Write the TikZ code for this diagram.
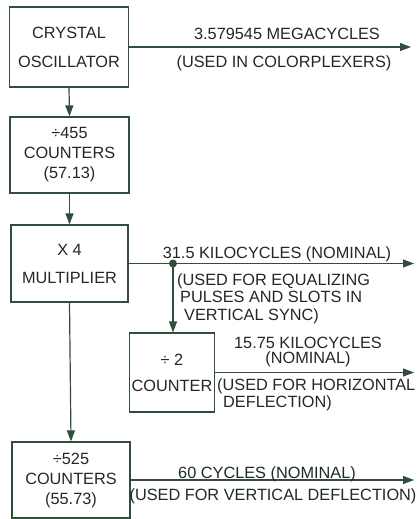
\documentclass[tikz,border=0pt]{standalone}
\usepackage{fontspec}
\setmainfont{Liberation Sans}
\usepackage{tikz}
\usetikzlibrary{arrows.meta, positioning, calc}
\usepackage{xcolor}
\definecolor{inkline}{RGB}{48,78,58}
\definecolor{inktext}{RGB}{35,40,38}

\tikzset{
  blk/.style={draw=inkline, line width=1.2pt, align=center, inner sep=0pt,
    text=inktext, font=\fontsize{16.3}{20}\selectfont},
  sig/.style={draw=inkline, line width=1.2pt, -{Triangle[length=11pt,width=8pt]}},
  lbl/.style={text=inktext, inner sep=0pt, font=\fontsize{16.3}{17.5}\selectfont},
}

\begin{document}
\begin{tikzpicture}[x=1pt, y=-1pt]
  \useasboundingbox (0,0) rectangle (416,519);

  % blocks
  \node[blk, minimum width=119pt, minimum height=80pt] (osc) at (69,47) {CRYSTAL\\[9pt]OSCILLATOR};
  \node[blk, minimum width=119pt, minimum height=76pt] (div455) at (69.5,155) {÷455\\COUNTERS\\(57.13)};
  \node[blk, minimum width=117pt, minimum height=77pt] (mult) at (69.5,263.5) {X 4\\[8pt]MULTIPLIER};
  \node[blk, minimum width=85pt, minimum height=79pt] (div2) at (172,372.5) {÷ 2\\[6pt]COUNTER};
  \node[blk, minimum width=118pt, minimum height=76pt] (div525) at (71,480) {÷525\\COUNTERS\\(55.73)};

  % outputs
  \coordinate (oscend) at (411,47);
  \coordinate (multend) at (414,263.5);
  \coordinate (div2end) at (414,372.5);
  \coordinate (div525end) at (414,480);
  \coordinate (tap) at (173,263.5);

  % connectors
  \draw[sig] (osc.south) -- (div455.north);
  \draw[sig] (div455.south) -- (mult.north);
  \draw[sig] (mult.south) -- (div525.north);
  \draw[sig] (osc.east) -- (oscend);
  \draw[sig] (mult.east) -- (multend);
  \draw[sig] (tap) -- (tap |- div2.north);
  \draw[sig] (div2.east) -- (div2end);
  \draw[sig] (div525.east) -- (div525end);
  \fill[inkline] (tap) circle (4pt);

  % labels (multi-line ones sit on their last line)
  \node[lbl, anchor=base] (megalbl) at (287,40) {3.579545 MEGACYCLES};
  \node[lbl, anchor=base] (colorlbl) at (284,67) {(USED IN COLORPLEXERS)};
  \node[lbl, anchor=base] (kilolbl) at (277,258) {31.5 KILOCYCLES (NOMINAL)};
  \node[lbl, anchor=base west, align=left] (equlbl) at (177,320)
    {(USED FOR EQUALIZING\\\hspace*{3pt}PULSES AND SLOTS IN\\\hspace*{7pt}VERTICAL SYNC)};
  \node[lbl, anchor=base, align=center] (horlbl) at (308,363) {15.75 KILOCYCLES\\[-2.5pt](NOMINAL)};
  \node[lbl, anchor=base west, align=left] (deflbl) at (217,407) {(USED FOR HORIZONTAL\\[-0.5pt]\hspace*{6pt}DEFLECTION)};
  \node[lbl, anchor=base] (cyclbl) at (267,478) {60 CYCLES (NOMINAL)};
  \node[lbl, anchor=base] (verlbl) at (273,500) {(USED FOR VERTICAL DEFLECTION)};
\end{tikzpicture}
\end{document}
